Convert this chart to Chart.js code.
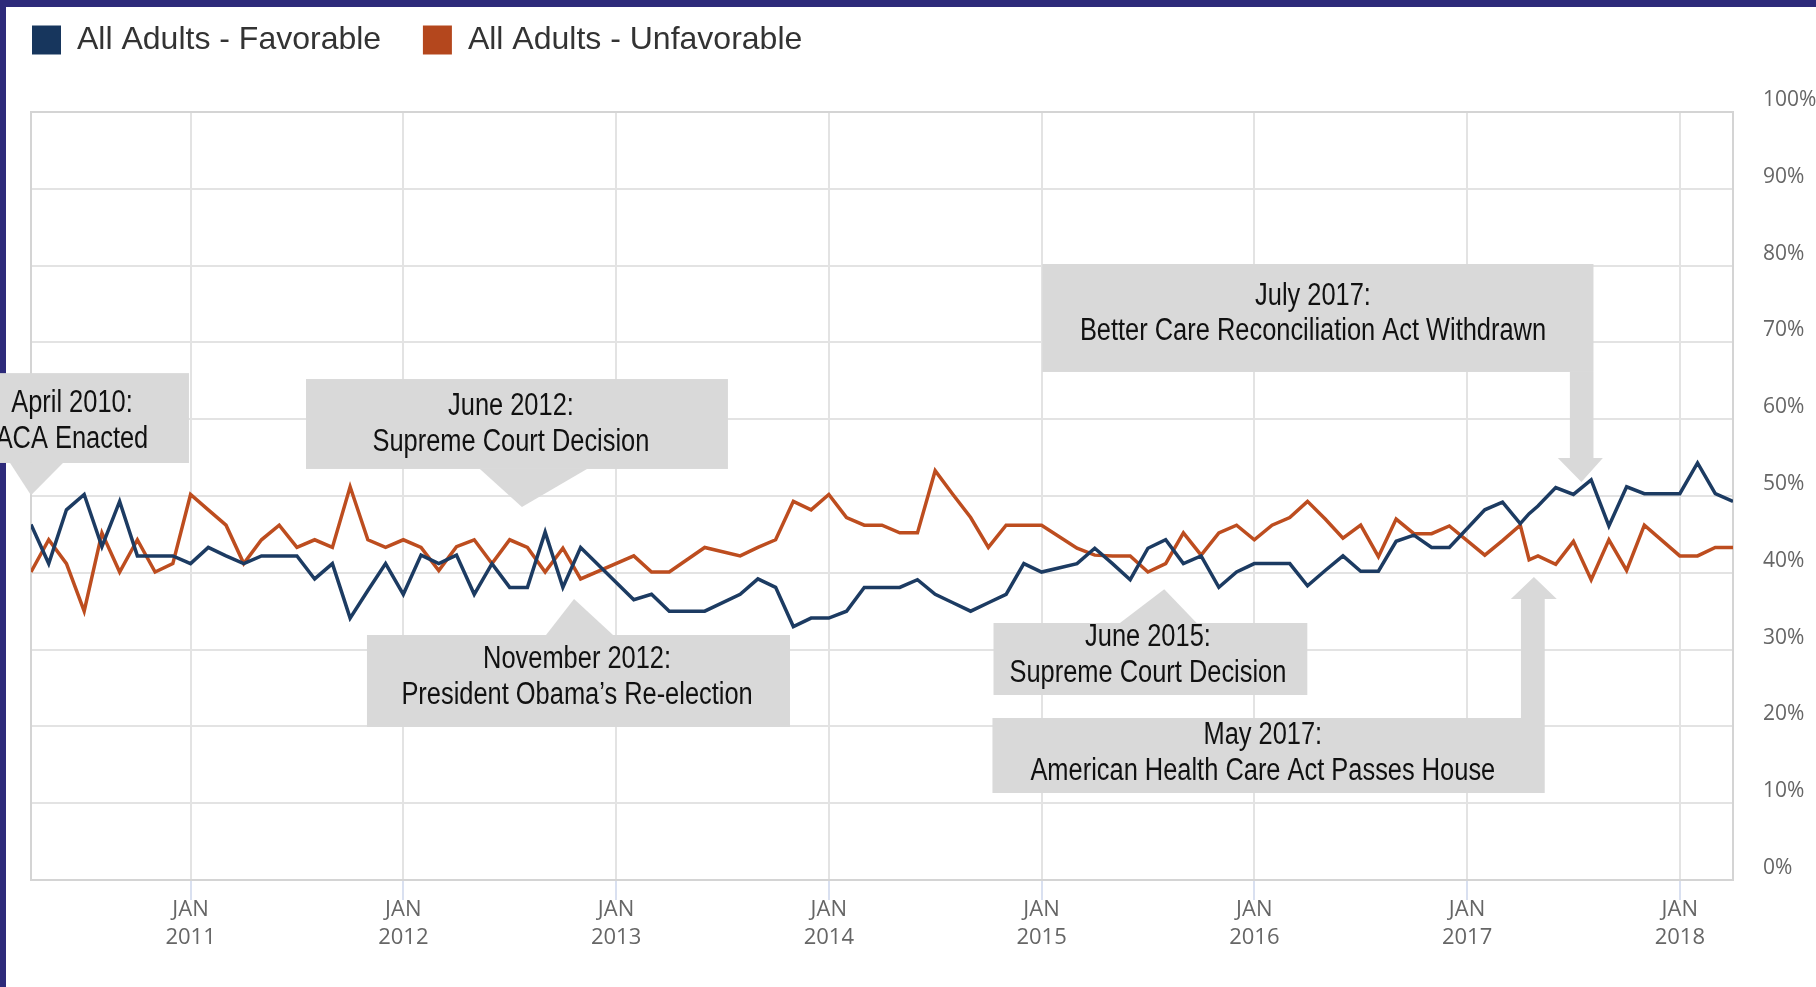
<!DOCTYPE html>
<html>
<head>
<meta charset="utf-8">
<script src="https://cdn.jsdelivr.net/npm/chart.js@4.4.1/dist/chart.umd.min.js"></script>
<style>
    html, body { margin: 0; padding: 0; background: #fff; }
    #wrap { width: 1816px; height: 987px; position: relative; }
</style>
</head>
<body>
<div id="wrap"><canvas id="acaChart"></canvas></div>
<script>
// months counted from Jan 2010 (3 = April 2010)
const months = [3, 4, 5, 6, 7, 8, 9, 10, 11, 12, 13, 14, 15, 16, 17, 18, 19, 20, 21, 22, 23, 24, 25, 26, 27,
    28, 29, 30, 31, 32, 33, 34, 37, 38, 39, 41, 43, 44, 45, 46, 47, 48, 49, 50, 51, 52, 53, 54, 55, 56, 57, 58,
    59, 60, 62, 63, 64, 65, 66, 67, 68, 69, 70, 71, 72, 73, 74, 75, 76, 77, 78, 79, 80, 81, 82, 83, 85, 86,
    87, 87.5, 88, 89, 90, 91, 92, 93, 94, 96, 97, 98, 99];
const favorable = [46.3, 41.2, 48.2, 50.2, 43.4, 49.3, 42.2, 42.2, 42.2, 41.2, 43.3, 42.2, 41.2, 42.2, 42.2, 42.2, 39.2, 41.2, 34.1, 37.7, 41.2, 37.2, 42.3, 41.2, 42.3,
    37.2, 41.2, 38.1, 38.1, 45.3, 38.1, 43.3, 36.5, 37.2, 35.0, 35.0, 37.2, 39.2, 38.1, 33.0, 34.1, 34.1, 35.0, 38.1, 38.1, 38.1, 39.1, 37.2, 36.1, 35.0, 36.1, 37.2,
    41.2, 40.1, 41.2, 43.2, 41.2, 39.1, 43.2, 44.3, 41.2, 42.2, 38.1, 40.1, 41.2, 41.2, 41.2, 38.3, 40.3, 42.2, 40.2, 40.2, 44.1, 44.9, 43.3, 43.3, 48.2, 49.2,
    46.4, 47.7, 48.7, 51.1, 50.2, 52.1, 46.1, 51.2, 50.3, 50.3, 54.3, 50.3, 49.3];
const unfavorable = [40.1, 44.3, 41.2, 35.0, 45.2, 40.1, 44.3, 40.1, 41.2, 50.2, 48.2, 46.2, 41.2, 44.3, 46.2, 43.3, 44.3, 43.3, 51.2, 44.3, 43.3, 44.3, 43.3, 40.3, 43.4,
    44.3, 41.2, 44.3, 43.3, 40.1, 43.2, 39.2, 42.2, 40.1, 40.1, 43.3, 42.2, 43.3, 44.3, 49.3, 48.2, 50.2, 47.2, 46.2, 46.2, 45.2, 45.2, 53.3, 50.2, 47.2, 43.3, 46.2,
    46.2, 46.2, 43.2, 42.3, 42.2, 42.2, 40.1, 41.2, 45.2, 42.3, 45.2, 46.2, 44.3, 46.2, 47.2, 49.3, 47.0, 44.5, 46.2, 42.1, 47.0, 45.1, 45.1, 46.1, 42.3, 44.2,
    46.2, 41.7, 42.2, 41.1, 44.1, 39.1, 44.3, 40.3, 46.2, 42.2, 42.2, 43.3, 43.3];

const tickMonths = [12, 24, 36, 48, 60, 72, 84, 96];
const tickYears = ['2011', '2012', '2013', '2014', '2015', '2016', '2017', '2018'];

// callouts: box [left month, right month, top %, bottom %], text centre [month, %], pointer outline
const notes = [
    { lines: ['April 2010:', 'ACA Enacted'], box: [-1.29, 11.91, 66.0, 54.3], text: [5.31, 59.7],
      shape: [[1.82, 54.3], [4.8, 54.3], [3, 50.1]] },
    { lines: ['June 2012:', 'Supreme Court Decision'], box: [18.51, 42.31, 65.23, 53.52], text: [30.07, 59.31],
      shape: [[28.32, 53.52], [34.36, 53.52], [30.69, 48.57]] },
    { lines: ['November 2012:', 'President Obama\u2019s Re-election'], box: [21.95, 45.81, 31.9, 19.92], text: [33.8, 26.37],
      shape: [[32.05, 31.9], [35.83, 31.9], [33.63, 36.59]] },
    { lines: ['June 2015:', 'Supreme Court Decision'], box: [57.29, 74.99, 33.46, 24.09], text: [66.0, 29.23],
      shape: [[64.42, 33.46], [68.75, 33.46], [66.92, 37.85]] },
    { lines: ['July 2017:', 'Better Care Reconciliation Act Withdrawn'], box: [60.04, 91.13, 80.21, 66.15], text: [75.31, 73.7],
      shape: [[89.8, 66.15], [91.13, 66.15], [91.13, 54.95], [91.66, 54.95], [90.45, 51.82], [89.12, 54.95], [89.8, 54.95]] },
    { lines: ['May 2017:', 'American Health Care Act Passes House'], box: [57.23, 88.38, 21.09, 11.33], text: [72.48, 16.47],
      shape: [[87.04, 21.09], [87.04, 36.59], [86.47, 36.59], [87.77, 39.45], [89.06, 36.59], [88.38, 36.59], [88.38, 21.09]] }
];

// white page with the dark frame on top and left
const framePlugin = {
    id: 'frame',
    beforeDraw(chart) {
        const ctx = chart.ctx;
        ctx.save();
        ctx.fillStyle = '#ffffff';
        ctx.fillRect(0, 0, chart.width, chart.height);
        ctx.fillStyle = '#2d2a7a';
        ctx.fillRect(0, 0, chart.width, 7);
        ctx.fillRect(0, 0, 6, chart.height);
        ctx.restore();
    },
    beforeDatasetsDraw(chart) {
        const { ctx, chartArea: a } = chart;
        ctx.save();
        ctx.strokeStyle = '#d4d4d4';
        ctx.lineWidth = 2;
        ctx.strokeRect(a.left, a.top, a.right - a.left, a.bottom - a.top);
        ctx.restore();
    }
};

const notesPlugin = {
    id: 'notes',
    afterDraw(chart) {
        const { ctx, scales: { x, y } } = chart;
        ctx.save();
        notes.forEach((n) => {
            const l = x.getPixelForValue(n.box[0]), r = x.getPixelForValue(n.box[1]);
            const t = y.getPixelForValue(n.box[2]), b = y.getPixelForValue(n.box[3]);
            ctx.fillStyle = '#d9d9d9';
            ctx.fillRect(l, t, r - l, b - t);
            ctx.beginPath();
            n.shape.forEach(([m, v], i) => {
                const px = x.getPixelForValue(m), py = y.getPixelForValue(v);
                if (i === 0) ctx.moveTo(px, py); else ctx.lineTo(px, py);
            });
            ctx.closePath();
            ctx.fill();

            // narrow type: Liberation Sans squeezed sideways
            ctx.fillStyle = '#111111';
            ctx.font = '31px "Liberation Sans", Arial, sans-serif';
            ctx.textAlign = 'center';
            ctx.textBaseline = 'middle';
            const cx = x.getPixelForValue(n.text[0]), cy = y.getPixelForValue(n.text[1]);
            n.lines.forEach((line, i) => {
                ctx.save();
                ctx.translate(cx, cy + (i === 0 ? -17.75 : 17.75));
                ctx.scale(0.82, 1);
                ctx.fillText(line, 0, 0);
                ctx.restore();
            });
        });
        ctx.restore();
    }
};

const ctx = document.getElementById('acaChart').getContext('2d');
const chart = new Chart(ctx, {
    type: 'line',
    data: {
        datasets: [{
            label: 'All Adults - Favorable',
            data: months.map((m, i) => ({ x: m, y: favorable[i] })),
            borderColor: '#1c3b62',
            backgroundColor: '#17365d',
            borderWidth: 3.5,
            pointRadius: 0,
            tension: 0,
            xAxisID: 'x',
            yAxisID: 'y'
        }, {
            label: 'All Adults - Unfavorable',
            data: months.map((m, i) => ({ x: m, y: unfavorable[i] })),
            borderColor: '#bd4d1f',
            backgroundColor: '#b4471d',
            borderWidth: 3.5,
            pointRadius: 0,
            tension: 0,
            xAxisID: 'x',
            yAxisID: 'y'
        }]
    },
    options: {
        responsive: true,
        maintainAspectRatio: false,
        animation: false,
        layout: { padding: { left: 8, right: 0, top: 0, bottom: 0 } },
        plugins: {
            legend: {
                position: 'top',
                align: 'start',
                labels: {
                    boxWidth: 29,
                    boxHeight: 29,
                    padding: 24,
                    color: '#333333',
                    font: { family: '"Liberation Sans", Arial, sans-serif', size: 32 },
                    // two trailing spaces widen the gap between the two entries
                    generateLabels: (c) => Chart.defaults.plugins.legend.labels.generateLabels(c)
                        .map((item) => Object.assign(item, { lineWidth: 0, text: item.text + '  ' }))
                }
            },
            tooltip: { enabled: false }
        },
        scales: {
            x: {
                type: 'linear',
                position: 'bottom',
                min: 3,
                max: 99,
                afterBuildTicks: (s) => { s.ticks = tickMonths.map((v) => ({ value: v })); },
                afterFit: (s) => { s.height = 107; },
                border: { display: false },
                grid: { color: '#e3e3e3', lineWidth: 2, tickLength: 20, tickColor: '#ccd6eb', tickWidth: 1.5 },
                ticks: {
                    autoSkip: false,
                    maxRotation: 0,
                    padding: -4,
                    color: '#666666',
                    font: { family: '"Open Sans", sans-serif', size: 22, lineHeight: 1.27 },
                    callback: (v, i) => ['JAN', tickYears[i]]
                }
            },
            xTop: {
                type: 'linear',
                position: 'top',
                afterFit: (s) => { s.height = 46; },
                border: { display: false },
                grid: { display: false },
                ticks: { display: false }
            },
            yLeft: {
                type: 'linear',
                position: 'left',
                afterFit: (s) => { s.width = 23; },
                border: { display: false },
                grid: { display: false },
                ticks: { display: false }
            },
            y: {
                position: 'right',
                min: 0,
                max: 100,
                afterFit: (s) => { s.width = 83; },
                border: { display: false },
                grid: { color: '#e3e3e3', lineWidth: 2, drawTicks: false },
                ticks: {
                    stepSize: 10,
                    padding: 30,
                    labelOffset: -12,
                    color: '#666666',
                    font: { family: '"Open Sans", sans-serif', size: 21 },
                    callback: (v) => v + '%'
                }
            }
        }
    },
    plugins: [framePlugin, notesPlugin]
});
</script>
</body>
</html>
